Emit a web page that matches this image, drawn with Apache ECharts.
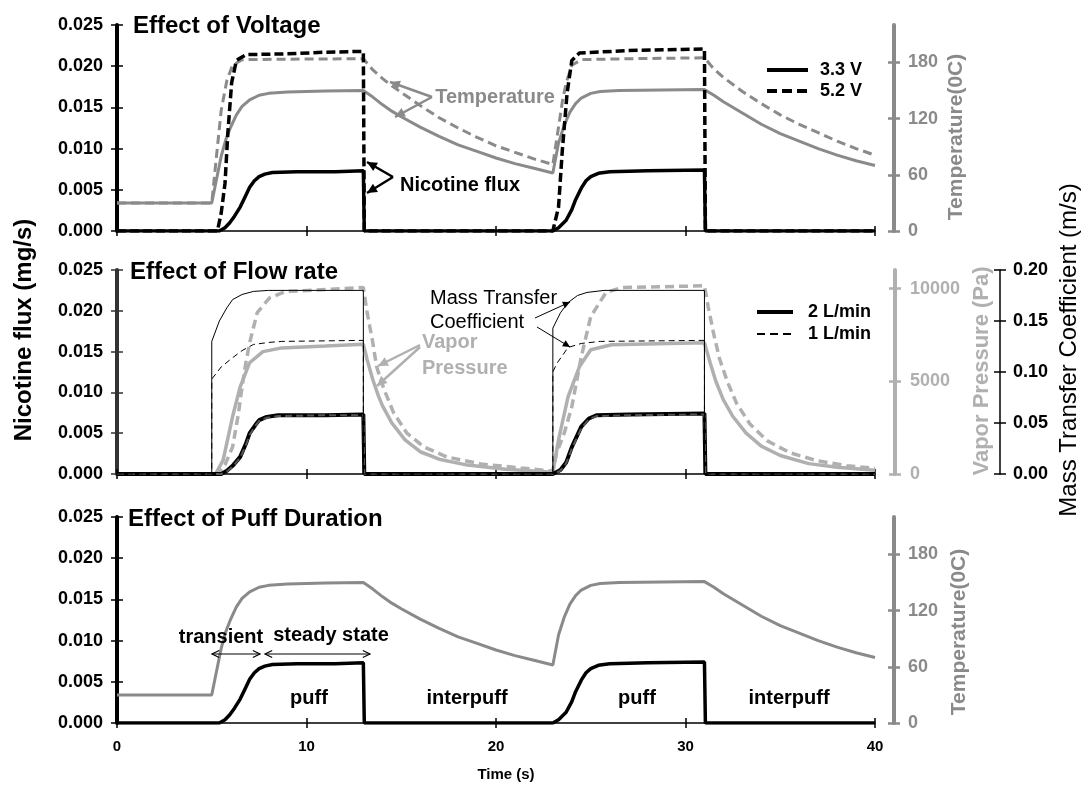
<!DOCTYPE html>
<html>
<head>
<meta charset="utf-8">
<title>Nicotine flux</title>
<script src="https://cdn.jsdelivr.net/npm/echarts@6.0.0/dist/echarts.min.js"></script>
<style>
  html, body { margin: 0; padding: 0; background: #fff; }
  #chart { width: 1081px; height: 785px; }
</style>
</head>
<body>
<div id="chart"></div>
<script>
// tick values
var timeTicks = [0, 10, 20, 30, 40];
var fluxTicks = [0, 0.005, 0.010, 0.015, 0.020, 0.025];
var tempTicks = [0, 60, 120, 180];
var vaporTicks = [0, 5000, 10000];
var mtcTicks = [0, 0.05, 0.10, 0.15, 0.20];

// Effect of Voltage  -- [time (s), value]
var flux33V = [[0,0],[5.4,0],[5.7,0.0004],[5.95,0.001],[6.2,0.0018],[6.5,0.0029],[6.75,0.0041],[7.0,0.0053],[7.25,0.0061],[7.5,0.0066],[7.8,0.0069],[8.2,0.0071],[9.5,0.0072],[11.5,0.0072],[13.0,0.0073],[13.05,0],[23.0,0],[23.3,0.0004],[23.7,0.0013],[24.0,0.0026],[24.2,0.0038],[24.5,0.0052],[24.75,0.0061],[25.0,0.0066],[25.4,0.007],[26.0,0.0072],[28.0,0.0073],[31.0,0.0074],[31.05,0],[40,0]];
var flux52V = [[0,0],[5.3,0],[5.5,0.0022],[5.7,0.0058],[5.85,0.0119],[6.05,0.018],[6.3,0.0207],[6.8,0.0214],[9.0,0.0215],[11.0,0.0217],[13.0,0.0218],[13.05,0],[23.0,0],[23.3,0.0029],[23.5,0.0098],[23.75,0.0167],[24.0,0.0207],[24.4,0.0216],[27.0,0.0219],[31.0,0.0221],[31.05,0],[40,0]];
var temp33V = [[0,30],[5,30],[5.25,55],[5.5,80],[5.75,98],[6.0,111],[6.3,124],[6.6,133],[7.0,140],[7.5,145],[8.0,147],[9.0,148.5],[11.0,149.5],[13.0,150],[13.5,143],[14.0,135],[14.5,128],[15.0,122],[16.0,111],[17.0,101],[18.0,92],[19.0,85],[20.0,78],[21.0,72],[22.0,67],[23.0,62],[23.3,94],[23.6,113],[23.9,127],[24.2,136],[24.5,142],[25.0,147],[25.5,149],[26.5,150],[31.0,151],[31.5,145],[32.0,138],[33.0,126],[34.0,114],[35.0,104],[36.0,96],[37.0,88],[38.0,81],[39.0,75],[40.0,70]];
var temp52V = [[0,30],[5,30],[5.25,80],[5.5,129],[5.8,161],[6.1,177],[6.6,183],[9.0,183.5],[13.0,184],[13.5,172],[14.0,163],[14.5,155],[15.0,148],[16.0,134],[17.0,121],[18.0,110],[19.0,100],[20.0,91],[21.0,84],[22.0,77],[23.0,71],[23.3,111],[23.5,138],[23.7,158],[24.0,177],[24.5,183],[27.0,184],[31.0,185],[31.5,173],[32.0,164],[33.0,149],[34.0,136],[35.0,124],[36.0,114],[37.0,105],[38.0,96],[39.0,88],[40.0,81]];

// Effect of Flow rate
var flux2L = [[0,0],[5.5,0],[5.8,0.0004],[6.1,0.001],[6.5,0.0021],[6.8,0.0037],[7.0,0.005],[7.3,0.006],[7.5,0.0066],[7.9,0.007],[8.5,0.0072],[11.0,0.0072],[13.0,0.0073],[13.05,0],[23.0,0],[23.4,0.0005],[23.7,0.0014],[24.0,0.0033],[24.5,0.0058],[24.9,0.0068],[25.3,0.0072],[27.0,0.0073],[31.0,0.0074],[31.05,0],[40,0]];
var flux1L = [[0,0],[5.5,0],[5.8,0.0003],[6.1,0.0009],[6.5,0.002],[6.8,0.0035],[7.0,0.0048],[7.3,0.0059],[7.5,0.0065],[7.9,0.0069],[8.5,0.0071],[11.0,0.0072],[13.0,0.0072],[13.05,0],[23.0,0],[23.4,0.0004],[23.7,0.0013],[24.0,0.0031],[24.5,0.0056],[24.9,0.0067],[25.3,0.0071],[27.0,0.0072],[31.0,0.0073],[31.05,0],[40,0]];
var vapor2L = [[0,0],[5.2,0],[5.6,750],[6.1,3100],[6.5,4700],[7.0,6000],[7.7,6600],[8.7,6800],[11.0,6900],[13.0,7000],[13.2,6160],[13.5,5080],[13.8,4200],[14.0,3700],[14.5,2760],[15.2,1840],[16.0,1200],[17.0,800],[18.5,480],[20.5,260],[23.0,100],[23.3,1840],[23.8,4160],[24.4,5780],[25.0,6700],[26.1,6970],[31.0,7080],[31.3,6000],[31.6,5000],[32.0,4000],[32.5,3100],[33.2,2200],[34.0,1500],[35.0,1000],[36.5,560],[38.0,360],[40.0,200]];
var vapor1L = [[0,0],[5.3,0],[5.7,500],[6.1,1460],[6.4,3200],[6.6,4700],[6.8,6000],[7.0,7080],[7.4,8700],[8.05,9500],[8.9,9840],[11.0,9950],[13.0,10050],[13.2,8700],[13.5,7080],[13.7,5780],[14.1,4540],[14.6,3300],[15.3,2200],[16.2,1460],[17.4,920],[19.2,540],[21.3,324],[23.0,160],[23.2,1135],[23.6,2200],[24.0,3620],[24.5,6320],[25.0,8490],[25.8,9780],[26.6,10050],[31.0,10150],[31.2,9000],[31.5,7500],[31.8,6200],[32.2,5000],[32.7,3800],[33.4,2700],[34.3,1800],[35.5,1150],[37.0,700],[38.5,450],[40.0,300]];
var mtc2L = [[0,0],[5.0,0],[5.0,0.13],[5.4,0.15],[5.8,0.163],[6.1,0.171],[6.6,0.176],[7.2,0.179],[8.0,0.18],[13.0,0.18],[13.0,0],[23.0,0],[23.0,0.143],[23.4,0.158],[23.8,0.168],[24.3,0.175],[24.8,0.178],[25.7,0.18],[31.0,0.18],[31.0,0],[40,0]];
var mtc1L = [[0,0],[5.0,0],[5.0,0.093],[5.5,0.105],[6.1,0.114],[6.6,0.121],[7.2,0.127],[8.0,0.129],[8.7,0.13],[13.0,0.131],[13.0,0],[23.0,0],[23.0,0.1],[23.2,0.108],[23.8,0.124],[24.5,0.128],[25.5,0.13],[31.0,0.131],[31.0,0],[40,0]];

var FONT = '"Liberation Sans", Arial, Helvetica, sans-serif';
var GRAY = '#8a8a8a';
var LIGHT = '#b0b0b0';

function xPair(grid, showLabel) {
  var base = {
    type: 'value', gridIndex: grid, position: 'bottom', min: 0, max: 40,
    splitLine: { show: false }
  };
  var main = Object.assign({}, base, {
    axisLine: { show: true, onZero: false, lineStyle: { color: '#000', width: 1.5 } },
    axisTick: { show: true, length: 5, customValues: timeTicks, lineStyle: { color: '#000', width: 1.5 } },
    axisLabel: { show: showLabel, customValues: timeTicks, color: '#000', fontFamily: FONT, fontWeight: 'bold', fontSize: 15, margin: 16 }
  });
  // second copy only to draw the inner half of the crossing ticks
  var twin = Object.assign({}, base, {
    axisLine: { show: false, onZero: false },
    axisLabel: { show: false },
    axisTick: { show: true, inside: true, length: 5, customValues: timeTicks, lineStyle: { color: '#000', width: 1.5 } }
  });
  return [main, twin];
}

function yPair(grid, pos, offset, max, ticks, lineColor, labelColor, lineW, tickW, fmt, margin) {
  var base = {
    type: 'value', gridIndex: grid, position: pos, offset: offset, min: 0, max: max,
    splitLine: { show: false }
  };
  var main = Object.assign({}, base, {
    axisLine: { show: true, onZero: false, lineStyle: { color: lineColor, width: lineW } },
    axisTick: { show: true, length: 6, customValues: ticks, lineStyle: { color: lineColor, width: tickW } },
    axisLabel: { show: true, customValues: ticks, formatter: fmt, color: labelColor, fontFamily: FONT, fontWeight: 'bold', fontSize: 18, margin: margin }
  });
  var twin = Object.assign({}, base, {
    axisLine: { show: false, onZero: false },
    axisLabel: { show: false },
    axisTick: { show: true, inside: true, length: 6, customValues: ticks, lineStyle: { color: lineColor, width: tickW } }
  });
  return [main, twin];
}

function fmtFlux(v) { return v.toFixed(3); }
function fmtInt(v) { return String(Math.round(v)); }
function fmtMtc(v) { return v.toFixed(2); }

var xAxes = [].concat(xPair(0, false), xPair(1, false), xPair(2, true));
var yAxes = [].concat(
  yPair(0, 'left', 0, 0.025, fluxTicks, '#000', '#000', 4, 1.5, fmtFlux, 14),     // 0,1
  yPair(0, 'right', 19, 220, tempTicks, GRAY, GRAY, 4, 2.5, fmtInt, 14),          // 2,3
  yPair(1, 'left', 0, 0.025, fluxTicks, '#333', '#000', 4, 1.5, fmtFlux, 14),     // 4,5
  yPair(1, 'right', 20, 11000, vaporTicks, LIGHT, LIGHT, 4, 2.5, fmtInt, 15),     // 6,7
  yPair(1, 'right', 125, 0.2, mtcTicks, '#000', '#000', 1.5, 1.5, fmtMtc, 13),    // 8,9
  yPair(2, 'left', 0, 0.025, fluxTicks, '#000', '#000', 4, 1.5, fmtFlux, 14),     // 10,11
  yPair(2, 'right', 19, 220, tempTicks, GRAY, GRAY, 4, 2.5, fmtInt, 14)           // 12,13
);

function line(name, data, xi, yi, color, width, dash) {
  return {
    name: name, type: 'line', xAxisIndex: xi, yAxisIndex: yi, data: data,
    showSymbol: false, symbol: 'none', silent: true,
    lineStyle: { color: color, width: width, type: dash || 'solid' }
  };
}

var series = [
  line('T 3.3 V', temp33V, 0, 2, GRAY, 3),
  line('T 5.2 V', temp52V, 0, 2, GRAY, 3, [9, 5]),
  line('3.3 V', flux33V, 0, 0, '#000', 3.5),
  line('5.2 V', flux52V, 0, 0, '#000', 3.5, [9, 4]),

  line('VP 2 L/min', vapor2L, 2, 6, LIGHT, 3.5),
  line('VP 1 L/min', vapor1L, 2, 6, LIGHT, 3.5, [9, 5]),
  line('2 L/min', flux2L, 2, 4, '#000', 4),
  line('1 L/min', flux1L, 2, 4, '#555', 2, [7, 4]),
  line('MTC 2 L/min', mtc2L, 2, 8, '#000', 1),
  line('MTC 1 L/min', mtc1L, 2, 8, '#000', 1, [6, 4]),

  line('T puff', temp33V, 4, 12, GRAY, 3),
  line('flux puff', flux33V, 4, 10, '#000', 3.5)
];

function label(x, y, s, size, color, opts) {
  opts = opts || {};
  return {
    type: 'text', x: x, y: y, rotation: opts.rot || 0, z: 100,
    style: {
      text: s, fill: color, align: opts.align || 'left', verticalAlign: 'middle',
      font: (opts.weight || 'bold') + ' ' + size + 'px ' + FONT
    }
  };
}
function seg(x1, y1, x2, y2, color, w, dash) {
  return { type: 'line', z: 100, shape: { x1: x1, y1: y1, x2: x2, y2: y2 },
    style: { stroke: color, lineWidth: w, lineDash: dash || null } };
}
function head(x1, y1, x2, y2, color, w, len, filled) {
  var a = Math.atan2(y2 - y1, x2 - x1), s = 0.45;
  var p1 = [x2 - len * Math.cos(a - s), y2 - len * Math.sin(a - s)];
  var p2 = [x2 - len * Math.cos(a + s), y2 - len * Math.sin(a + s)];
  if (filled) return { type: 'polygon', z: 100, shape: { points: [p1, [x2, y2], p2] }, style: { fill: color } };
  return { type: 'polyline', z: 100, shape: { points: [p1, [x2, y2], p2] }, style: { stroke: color, lineWidth: w, fill: null } };
}
function arrow(x1, y1, x2, y2, color, w, len, filled) {
  return [seg(x1, y1, x2, y2, color, w), head(x1, y1, x2, y2, color, w, len, filled)];
}
function dblArrow(x1, x2, y, color, w, len) {
  return [seg(x1, y, x2, y, color, w), head(x2, y, x1, y, color, w, len, false), head(x1, y, x2, y, color, w, len, false)];
}

var R = Math.PI / 2;
var graphics = [].concat(
  // titles
  label(133, 26, 'Effect of Voltage', 24, '#000'),
  label(130, 272, 'Effect of Flow rate', 24, '#000'),
  label(128, 519, 'Effect of Puff Duration', 24, '#000'),
  // axis names
  label(24, 330, 'Nicotine flux (mg/s)', 24, '#000', { align: 'center', rot: R }),
  label(956, 137, 'Temperature(0C)', 21, GRAY, { align: 'center', rot: R }),
  label(959, 632, 'Temperature(0C)', 21, GRAY, { align: 'center', rot: R }),
  label(982, 371, 'Vapor Pressure (Pa)', 22, LIGHT, { align: 'center', rot: R }),
  label(1069, 350, 'Mass Transfer Coefficient (m/s)', 24, '#000', { align: 'center', rot: R, weight: 'normal' }),
  label(506, 775, 'Time (s)', 15, '#000', { align: 'center' }),
  // legend, voltage
  seg(767, 70, 808, 70, '#000', 4),
  label(820, 70, '3.3 V', 18, '#000'),
  seg(767, 91, 808, 91, '#000', 4, [10, 5]),
  label(820, 91, '5.2 V', 18, '#000'),
  // legend, flow rate
  seg(757, 312, 793, 312, '#000', 4),
  label(808, 312, '2 L/min', 18, '#000'),
  seg(757, 334, 793, 334, '#000', 2, [8, 5]),
  label(808, 334, '1 L/min', 18, '#000'),
  // voltage annotations
  label(495, 97, 'Temperature', 20, GRAY, { align: 'center' }),
  arrow(432, 97, 390, 82, GRAY, 2.5, 11, true),
  arrow(432, 97, 395, 117, GRAY, 2.5, 11, true),
  label(460, 185, 'Nicotine flux', 20, '#000', { align: 'center' }),
  arrow(393, 177, 367, 162, '#000', 2.5, 11, true),
  arrow(393, 177, 367, 193, '#000', 2.5, 11, true),
  // flow rate annotations
  label(430, 298, 'Mass Transfer', 20, '#000', { weight: 'normal' }),
  label(430, 322, 'Coefficient', 20, '#000', { weight: 'normal' }),
  arrow(535, 318, 570, 302, '#000', 1, 8, true),
  arrow(537, 327, 570, 347, '#000', 1, 8, true),
  label(422, 342, 'Vapor', 20, LIGHT),
  label(422, 368, 'Pressure', 20, LIGHT),
  arrow(420, 345, 378, 366, LIGHT, 2.5, 11, true),
  arrow(420, 347, 377, 386, LIGHT, 2.5, 11, true),
  // puff duration annotations
  label(221, 637, 'transient', 20, '#000', { align: 'center' }),
  label(331, 635, 'steady state', 20, '#000', { align: 'center' }),
  dblArrow(212, 260, 654, '#000', 1.2, 8),
  dblArrow(265, 370, 654, '#000', 1.2, 8),
  label(309, 698, 'puff', 20, '#000', { align: 'center' }),
  label(467, 698, 'interpuff', 20, '#000', { align: 'center' }),
  label(637, 698, 'puff', 20, '#000', { align: 'center' }),
  label(789, 698, 'interpuff', 20, '#000', { align: 'center' })
);

var chart = echarts.init(document.getElementById('chart'), null, { renderer: 'canvas' });
chart.setOption({
  animation: false,
  backgroundColor: '#fff',
  grid: [
    { left: 117, top: 25, width: 758, height: 206 },
    { left: 117, top: 270, width: 758, height: 204 },
    { left: 117, top: 517, width: 758, height: 206 }
  ],
  xAxis: xAxes,
  yAxis: yAxes,
  series: series,
  graphic: { elements: graphics }
});
</script>
</body>
</html>
